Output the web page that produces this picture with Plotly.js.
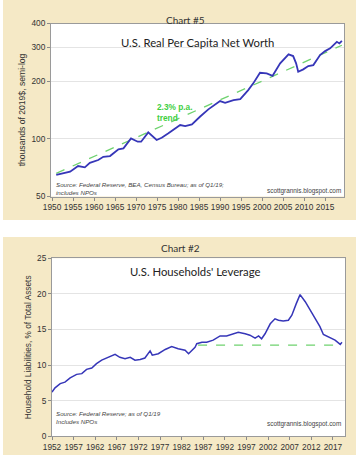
<!DOCTYPE html>
<html><head><meta charset="utf-8">
<script src="https://cdn.plot.ly/plotly-3.0.1.min.js"></script>
<style>html,body{margin:0;padding:0;background:#fff}#chart{width:362px;height:455px}</style>
</head><body><div id="chart"></div>
<script>
// Chart #5: U.S. Real Per Capita Net Worth (thousands of 2019$)
const nwYears = [1951.0,1953.1,1954.3,1956.2,1957.8,1959.0,1961.0,1962.2,1963.8,1965.8,1967.0,1968.8,1970.4,1971.2,1972.9,1974.9,1976.1,1977.7,1978.9,1980.5,1981.7,1983.3,1985.2,1987.2,1990.0,1991.2,1993.2,1994.8,1996.7,1997.9,1999.5,2001.1,2002.5,2004.3,2006.3,2007.4,2008.1,2008.6,2009.8,2011.0,2012.2,2013.8,2015.0,2016.2,2017.8,2018.4,2019.0];
const nwValues = [64.8,66.1,67.4,72.1,71.0,75.0,77.5,80.6,81.3,88.2,89.2,100.6,96.6,96.6,108.1,98.6,101.3,106.8,111.2,118.0,116.6,119.0,130.4,142.5,157.5,154.3,159.4,161.3,179.7,194.8,221.2,219.6,213.4,247.6,275.9,270.4,247.6,223.9,230.5,239.8,242.7,273.6,287.1,296.6,321.0,314.9,324.9];
const nwTrendYears = [1951, 2019];
const nwTrendValues = [66, 308];
const nwTickVals = [50, 100, 200, 300, 400];
const nwXTicks = [1950,1955,1960,1965,1970,1975,1980,1985,1990,1995,2000,2005,2010,2015];

// Chart #2: U.S. Households' Leverage (% of total assets)
const levYears = [1952.0,1952.7,1953.9,1955.0,1956.2,1957.7,1958.9,1960.0,1961.2,1962.3,1963.5,1965.0,1966.6,1967.7,1968.9,1970.1,1971.2,1972.4,1973.5,1974.7,1975.2,1976.6,1978.2,1979.7,1981.2,1982.8,1983.6,1985.1,1985.5,1986.7,1987.8,1989.3,1990.9,1992.4,1993.6,1995.1,1996.7,1997.8,1999.0,1999.8,2000.5,2001.3,2002.5,2003.6,2004.4,2005.5,2006.7,2007.5,2008.5,2009.4,2010.6,2011.7,2012.9,2014.0,2014.8,2016.0,2017.5,2018.7,2019.1];
const levValues = [6.2,6.8,7.4,7.6,8.2,8.7,8.8,9.4,9.6,10.2,10.7,11.1,11.5,11.1,10.9,11.1,10.7,10.8,11.0,12.0,11.4,11.6,12.2,12.6,12.3,12.1,11.6,12.5,13.0,13.2,13.2,13.5,14.1,14.1,14.3,14.6,14.4,14.2,13.8,14.1,13.7,14.4,15.8,16.5,16.3,16.2,16.3,17.0,18.6,19.9,18.9,17.7,16.5,15.4,14.3,13.9,13.5,12.9,13.2];
const levRefYears = [1985.8, 2019.1];
const levRefValues = [12.8, 12.8];
const levTickVals = [0, 5, 10, 15, 20, 25];
const levXTicks = [1952,1957,1962,1967,1972,1977,1982,1987,1992,1997,2002,2007,2012,2017];

const W = 362, H = 455;
const fx = x => x / W;
const fy = y => 1 - y / H;
const BLUE = '#3636b8', GREEN = '#6fd26f', TXT = '#333333';
const tickFont = {family: 'Liberation Sans, Arial, sans-serif', size: 8.3, color: TXT};

const traces = [
  {x: nwTrendYears, y: nwTrendValues, xaxis: 'x', yaxis: 'y', mode: 'lines', line: {color: GREEN, width: 1.3, dash: 'dash'}, hoverinfo: 'skip'},
  {x: nwYears, y: nwValues, xaxis: 'x', yaxis: 'y', mode: 'lines', line: {color: BLUE, width: 1.8}},
  {x: levRefYears, y: levRefValues, xaxis: 'x2', yaxis: 'y2', mode: 'lines', line: {color: GREEN, width: 1.2, dash: 'dash'}, hoverinfo: 'skip'},
  {x: levYears, y: levValues, xaxis: 'x2', yaxis: 'y2', mode: 'lines', line: {color: BLUE, width: 1.5}}
];

const axisCommon = {showline: true, mirror: true, linecolor: '#9a9a9a', linewidth: 1, ticks: 'outside', ticklen: 3, tickcolor: '#8a8a8a', tickfont: tickFont, zeroline: false, fixedrange: true};

const layout = {
  width: W, height: H,
  margin: {l: 0, r: 0, t: 0, b: 0},
  paper_bgcolor: '#ffffff',
  plot_bgcolor: 'rgba(0,0,0,0)',
  showlegend: false,
  xaxis: Object.assign({}, axisCommon, {domain: [fx(51), fx(344)], range: [1949.75, 2019.5], tickvals: nwXTicks, showgrid: false, anchor: 'y'}),
  yaxis: Object.assign({}, axisCommon, {domain: [fy(196.5), fy(23.5)], type: 'log', range: [Math.log10(50), Math.log10(400)], tickvals: nwTickVals, ticktext: nwTickVals.map(String), showgrid: true, gridcolor: '#e4e4e4', anchor: 'x',
    title: {text: 'thousands of 2019$, semi-log', font: {family: 'Liberation Sans, Arial, sans-serif', size: 8.6, color: TXT}, standoff: 4}}),
  xaxis2: Object.assign({}, axisCommon, {domain: [fx(52), fx(345)], range: [1952, 2019.8], tickvals: levXTicks, showgrid: false, anchor: 'y2'}),
  yaxis2: Object.assign({}, axisCommon, {domain: [fy(436.3), fy(258.3)], range: [0, 25], tickvals: levTickVals, ticksuffix: '%', showgrid: true, gridcolor: '#e4e4e4', anchor: 'x2',
    title: {text: 'Household Liabilities, % of Total Assets', font: {family: 'Liberation Sans, Arial, sans-serif', size: 8.3, color: TXT}, standoff: 4}}),
  shapes: [
    {type: 'rect', xref: 'paper', yref: 'paper', x0: fx(3), x1: fx(356), y0: fy(220), y1: fy(0), fillcolor: '#f5e9c6', line: {width: 0}, layer: 'below'},
    {type: 'rect', xref: 'paper', yref: 'paper', x0: fx(3), x1: fx(356), y0: fy(455), y1: fy(237), fillcolor: '#f5e9c6', line: {width: 0}, layer: 'below'},
    {type: 'rect', xref: 'x domain', yref: 'y domain', x0: 0, x1: 1, y0: 0, y1: 1, fillcolor: '#ffffff', line: {width: 0}, layer: 'below'},
    {type: 'rect', xref: 'x2 domain', yref: 'y2 domain', x0: 0, x1: 1, y0: 0, y1: 1, fillcolor: '#ffffff', line: {width: 0}, layer: 'below'}
  ],
  annotations: [
    {text: 'Chart #5', xref: 'paper', yref: 'paper', x: fx(185), y: fy(12), showarrow: false, font: {family: 'Lato, Open Sans, sans-serif', size: 10, color: TXT}},
    {text: 'U.S. Real Per Capita Net Worth', xref: 'paper', yref: 'paper', x: fx(197), y: fy(34), showarrow: false, font: {family: 'Lato, Open Sans, sans-serif', size: 11.3, color: '#222'}},
    {text: '<b>2.3% p.a.</b><br><b>trend</b>', align: 'left', xanchor: 'left', yanchor: 'top', xref: 'paper', yref: 'paper', x: fx(155), y: fy(100), showarrow: false, font: {family: 'Liberation Sans, Arial, sans-serif', size: 8.3, color: '#3fcf3f'}},
    {text: '<i>Source: Federal Reserve, BEA, Census Bureau; as of Q1/19;</i><br><i>includes NPOs</i>', align: 'left', xanchor: 'left', xref: 'paper', yref: 'paper', x: fx(54), y: fy(188), showarrow: false, font: {family: 'Liberation Sans, Arial, sans-serif', size: 6.2, color: '#444'}},
    {text: 'scottgrannis.blogspot.com', xanchor: 'right', xref: 'paper', yref: 'paper', x: fx(343), y: fy(191), showarrow: false, font: {family: 'Liberation Sans, Arial, sans-serif', size: 6.4, color: '#444'}},
    {text: 'Chart #2', xref: 'paper', yref: 'paper', x: fx(180), y: fy(248), showarrow: false, font: {family: 'Lato, Open Sans, sans-serif', size: 10, color: TXT}},
    {text: "U.S. Households' Leverage", xref: 'paper', yref: 'paper', x: fx(196), y: fy(271), showarrow: false, font: {family: 'Lato, Open Sans, sans-serif', size: 11.3, color: '#222'}},
    {text: '<i>Source: Federal Reserve; as of Q1/19</i><br><i>Includes NPOs</i>', align: 'left', xanchor: 'left', xref: 'paper', yref: 'paper', x: fx(54), y: fy(427), showarrow: false, font: {family: 'Liberation Sans, Arial, sans-serif', size: 6.2, color: '#444'}},
    {text: 'scottgrannis.blogspot.com', xanchor: 'right', xref: 'paper', yref: 'paper', x: fx(343), y: fy(430), showarrow: false, font: {family: 'Liberation Sans, Arial, sans-serif', size: 6.4, color: '#444'}}
  ]
};

Plotly.newPlot('chart', traces, layout, {displayModeBar: false, staticPlot: true});
</script>
</body></html>
